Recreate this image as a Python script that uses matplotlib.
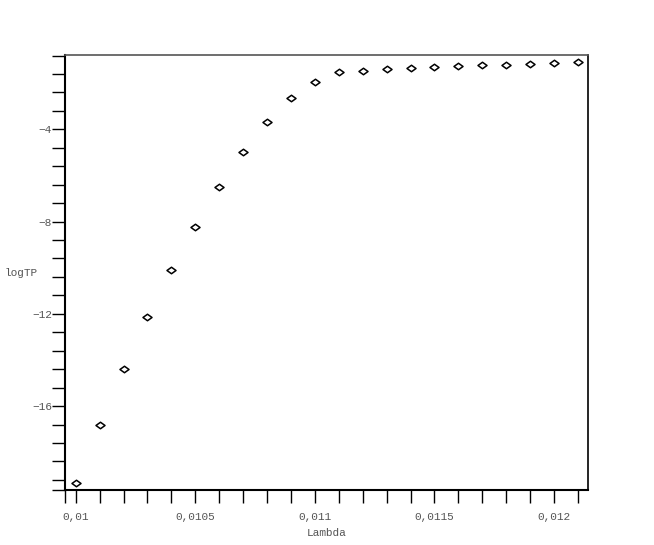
import numpy as np
import matplotlib.pyplot as plt
from matplotlib.ticker import FixedLocator
from matplotlib.path import Path

# Lambda values and measured logTP
lam = [0.0100, 0.0101, 0.0102, 0.0103, 0.0104, 0.0105, 0.0106, 0.0107,
       0.0108, 0.0109, 0.0110, 0.0111, 0.0112, 0.0113, 0.0114, 0.0115,
       0.0116, 0.0117, 0.0118, 0.0119, 0.0120, 0.0121]
logtp = [-19.35, -16.80, -14.40, -12.16, -10.10, -8.22, -6.51, -4.99,
         -3.70, -2.65, -1.94, -1.53, -1.49, -1.40, -1.36, -1.30,
         -1.25, -1.22, -1.22, -1.17, -1.12, -1.09]

xticks = [0.01, 0.0105, 0.011, 0.0115, 0.012]
xlabels = ["0,01", "0,0105", "0,011", "0,0115", "0,012"]
yticks = [-16, -12, -8, -4]

xmin, xmax = 0.0099553, 0.012142
ymin, ymax = -19.64, -0.778

font = "Liberation Mono"
tcol = "#555555"

fig = plt.figure(figsize=(6.54, 5.45), dpi=100)
ax = fig.add_axes([65/654, 1-490/545, 523/654, 435/545])

# wide open diamond
dia = Path([(-1, 0), (0, 0.72), (1, 0), (0, -0.72), (-1, 0)],
           [Path.MOVETO, Path.LINETO, Path.LINETO, Path.LINETO, Path.CLOSEPOLY])
ax.plot(lam, logtp, linestyle="none", marker=dia, markersize=6.5,
        markerfacecolor="white", markeredgecolor="black", markeredgewidth=1.1)

ax.set_xlim(xmin, xmax)
ax.set_ylim(ymin, ymax)

ax.xaxis.set_major_locator(FixedLocator(xticks))
ax.set_xticklabels(xlabels)
ax.xaxis.set_minor_locator(FixedLocator([xmin] + [0.01 + 0.0001 * k for k in range(22)]))
ax.yaxis.set_major_locator(FixedLocator(yticks))
ax.yaxis.set_minor_locator(FixedLocator([ymin] + [-0.8 * k for k in range(1, 25)]))

ax.tick_params(axis="x", which="both", direction="out", length=9, width=1,
               color="black", pad=7, labelsize=8, labelcolor=tcol)
ax.tick_params(axis="y", which="both", direction="out", length=9.5, width=1,
               color="black", pad=0, labelsize=8, labelcolor=tcol)
for lbl in ax.get_xticklabels() + ax.get_yticklabels():
    lbl.set_family(font)

ax.spines["left"].set_linewidth(1.5)
ax.spines["bottom"].set_linewidth(1.5)
ax.spines["top"].set_color("#555555")
ax.spines["right"].set_color("black")
ax.spines["top"].set_linewidth(1.2)
ax.spines["right"].set_linewidth(1.2)

ax.set_xlabel("Lambda", family=font, fontsize=8, color=tcol, labelpad=4)
fig.text(5/654, 1-273/545, "logTP", family=font, fontsize=8, color=tcol,
         ha="left", va="center")

fig.savefig("out.png", dpi=100)
